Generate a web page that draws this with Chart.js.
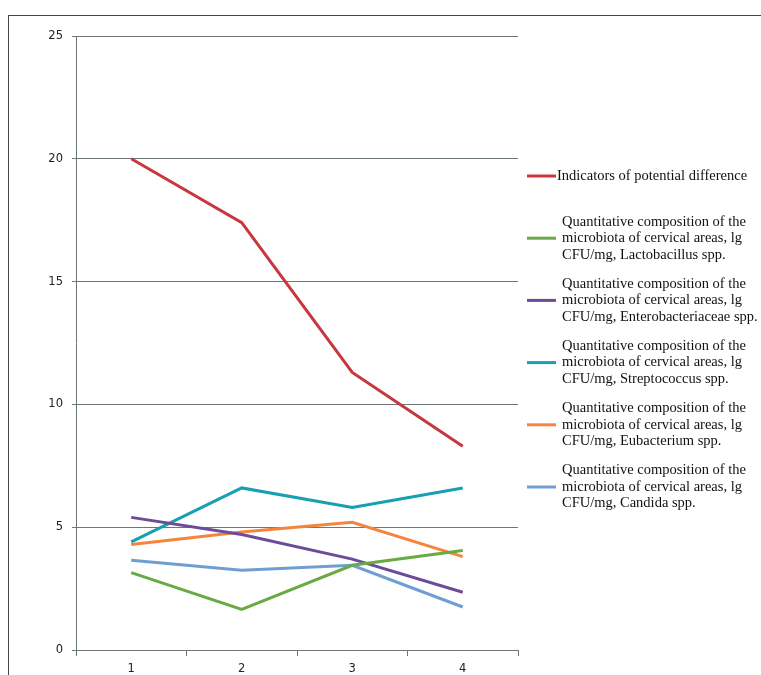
<!DOCTYPE html>
<html>
<head>
<meta charset="utf-8">
<style>
  html, body { margin: 0; padding: 0; background: #fff; }
  canvas { display: block; }
</style>
<script src="https://cdn.jsdelivr.net/npm/chart.js@4/dist/chart.umd.min.js"></script>
</head>
<body>
<canvas id="chart" width="761" height="675"></canvas>
<script>
// categories on the x axis
var categories = ['1', '2', '3', '4'];
var yTicks = [0, 5, 10, 15, 20, 25];

// series
var potentialDifference = [20.0, 17.4, 11.3, 8.3];
var lactobacillus = [3.15, 1.65, 3.45, 4.05];
var enterobacteriaceae = [5.4, 4.7, 3.7, 2.35];
var streptococcus = [4.4, 6.6, 5.8, 6.6];
var eubacterium = [4.3, 4.8, 5.2, 3.8];
var candida = [3.65, 3.25, 3.45, 1.75];

var prefix = ['Quantitative composition of the', 'microbiota of cervical areas, lg'];
var legendLines = [
  ['Indicators of potential difference'],
  prefix.concat(['CFU/mg, Lactobacillus spp.']),
  prefix.concat(['CFU/mg, Enterobacteriaceae spp.']),
  prefix.concat(['CFU/mg, Streptococcus spp.']),
  prefix.concat(['CFU/mg, Eubacterium spp.']),
  prefix.concat(['CFU/mg, Candida spp.'])
];

var seriesData = [potentialDifference, lactobacillus, enterobacteriaceae, streptococcus, eubacterium, candida];
var colors = ['#c8363f', '#6aaa44', '#6b4c9a', '#17a0b2', '#f5843c', '#6f9fd2'];

var datasets = seriesData.map(function(d, i){
  return {
    label: legendLines[i].join(' '),
    data: d,
    borderColor: colors[i],
    backgroundColor: colors[i],
    borderWidth: 3,
    pointRadius: 0,
    tension: 0,
    fill: false
  };
});

var gridColor = '#6d7777';

// frame round the picture + the side legend
var extras = {
  id: 'extras',
  beforeDraw: function(chart){
    var ctx = chart.ctx;
    ctx.save();
    ctx.strokeStyle = '#444';
    ctx.lineWidth = 1;
    ctx.strokeRect(8.5, 15.5, 800, 700);
    ctx.restore();
  },
  afterDraw: function(chart){
    var ctx = chart.ctx;
    ctx.save();
    ctx.font = '14.5px "Liberation Serif", "Times New Roman", serif';
    ctx.fillStyle = '#111';
    ctx.textBaseline = 'middle';
    chart.data.datasets.forEach(function(ds, i){
      var cy = 176 + i * 62.2;
      var lines = legendLines[i];
      ctx.strokeStyle = ds.borderColor;
      ctx.lineWidth = 3;
      ctx.beginPath();
      ctx.moveTo(527, cy);
      ctx.lineTo(556, cy);
      ctx.stroke();
      var lh = 16.5;
      var top = cy - (lines.length - 1) * lh / 2;
      var tx = lines.length > 1 ? 562 : 557;
      lines.forEach(function(t, j){
        ctx.fillText(t, tx, top + j * lh);
      });
    });
    ctx.restore();
  }
};

new Chart(document.getElementById('chart'), {
  type: 'line',
  data: { labels: categories, datasets: datasets },
  options: {
    responsive: false,
    animation: false,
    layout: { padding: { left: 0, right: 243, top: 36, bottom: 0 } },
    plugins: {
      legend: { display: false },
      tooltip: { enabled: false }
    },
    scales: {
      x: {
        offset: true,
        grid: { offset: true, drawOnChartArea: false, drawTicks: true, tickLength: 6, color: gridColor },
        border: { color: gridColor, width: 1 },
        ticks: { color: '#222', font: { family: 'DejaVu Sans', size: 11.5 }, padding: 6 },
        afterFit: function(s){ s.height = 25; }
      },
      y: {
        min: 0,
        max: 25,
        afterBuildTicks: function(s){ s.ticks = yTicks.map(function(v){ return { value: v }; }); },
        grid: { color: gridColor, lineWidth: 1, tickLength: 4 },
        border: { color: gridColor, width: 1 },
        ticks: { color: '#222', font: { family: 'DejaVu Sans', size: 11.5 }, padding: 9 },
        afterFit: function(s){ s.width = 76; }
      }
    }
  },
  plugins: [extras]
});
</script>
</body>
</html>
